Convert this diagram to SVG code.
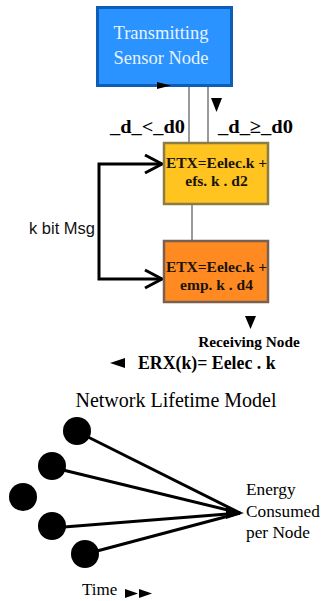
<svg xmlns="http://www.w3.org/2000/svg" width="323" height="601" viewBox="0 0 323 601">
  <style>
    .serif { font-family: "Liberation Serif", "Times New Roman", serif; }
    .sans { font-family: "Liberation Sans", Arial, sans-serif; }
    .bold { font-weight: bold; }
    .link { stroke: #9a9a9a; stroke-width: 2; fill: none; }
    .bracket { stroke: #000; stroke-width: 3; fill: none; }
    .spoke { stroke: #000; stroke-width: 3; }
    .dot { fill: #000; }
  </style>

  <rect width="323" height="601" fill="#fff"/>

  <!-- connectors -->
  <g id="connectors">
    <line class="link" x1="189" y1="87" x2="189" y2="142"/>
    <line class="link" x1="208" y1="87" x2="208" y2="142"/>
    <line class="link" x1="192" y1="205" x2="192" y2="240"/>
    <!-- k bit message bracket -->
    <polyline class="bracket" points="162,164 99,164 99,279 162,279"/>
    <polyline class="bracket" points="145,155 162,164 145,173"/>
    <polyline class="bracket" points="145,270 162,279 145,288"/>
  </g>

  <!-- transmitting node -->
  <g id="transmitter">
    <rect x="97.5" y="7.5" width="134" height="78" fill="#2a93ff" stroke="#0d5eb8" stroke-width="3"/>
    <text class="serif" x="161" y="39" font-size="18.5" fill="#e8f2ff" text-anchor="middle">Transmitting</text>
    <text class="serif" x="161" y="64" font-size="18.5" fill="#e8f2ff" text-anchor="middle">Sensor Node</text>
  </g>

  <!-- direction markers -->
  <polygon points="157,82 171,85.5 157,89" fill="#000"/>
  <polygon points="211,98 222,98 216.5,112" fill="#000"/>

  <!-- distance labels -->
  <text class="serif bold" x="110" y="133" font-size="19.5" textLength="75" lengthAdjust="spacingAndGlyphs">_d_&lt;_d0</text>
  <text class="serif bold" x="218" y="133" font-size="19.5" textLength="75" lengthAdjust="spacingAndGlyphs">_d_≥_d0</text>

  <!-- free-space model node -->
  <g id="free-space">
    <rect x="164" y="143" width="104" height="61" fill="#ffc420" stroke="#8b7b45" stroke-width="2.5"/>
    <text class="serif bold" x="216.5" y="168" font-size="15.5" fill="#1a1408" text-anchor="middle">ETX=Eelec.k +</text>
    <text class="serif bold" x="216.5" y="186" font-size="15.5" fill="#1a1408" text-anchor="middle">efs. k . d2</text>
  </g>

  <!-- multipath model node -->
  <g id="multipath">
    <rect x="164" y="241" width="104" height="61" fill="#ff8a22" stroke="#7a6050" stroke-width="2.5"/>
    <text class="serif bold" x="216.5" y="272" font-size="15.5" fill="#1a1408" text-anchor="middle">ETX=Eelec.k +</text>
    <text class="serif bold" x="216.5" y="290" font-size="15.5" fill="#1a1408" text-anchor="middle">emp. k . d4</text>
  </g>

  <text class="sans" x="29" y="234" font-size="16.5" fill="#111">k bit Msg</text>

  <!-- receiving side -->
  <polygon points="245,316 256,316 250.5,329" fill="#000"/>
  <g id="receiver">
    <text class="serif bold" x="249" y="347" font-size="15.3" text-anchor="middle">Receiving Node</text>
  </g>
  <polygon points="110,363 125,358 125,368" fill="#000"/>
  <text class="serif bold" x="138" y="369" font-size="17.8">ERX(k)= Eelec . k</text>

  <!-- lifetime model -->
  <text class="serif" x="176" y="407" font-size="20" text-anchor="middle">Network Lifetime Model</text>
  <g id="lifetime-spokes">
    <line class="spoke" x1="88" y1="437" x2="240" y2="513"/>
    <line class="spoke" x1="63" y1="470" x2="240" y2="513"/>
    <line class="spoke" x1="64" y1="527" x2="240" y2="513"/>
    <line class="spoke" x1="97" y1="551" x2="240" y2="513"/>
    <polygon points="226,507 244,513 226,519" fill="#000"/>
  </g>
  <g id="nodes">
    <circle class="dot" cx="77" cy="431" r="14"/>
    <circle class="dot" cx="52" cy="466" r="14"/>
    <circle class="dot" cx="23" cy="497" r="14"/>
    <circle class="dot" cx="52" cy="526" r="14"/>
    <circle class="dot" cx="85" cy="554" r="14"/>
  </g>
  <g id="energy">
    <text class="serif" x="246" y="495" font-size="17.3">Energy</text>
    <text class="serif" x="246" y="517" font-size="17.3">Consumed</text>
    <text class="serif" x="246" y="538" font-size="17.3">per Node</text>
  </g>
  <text class="serif" x="82" y="595" font-size="17">Time</text>
  <polygon points="125,589 138,593.5 125,598" fill="#000"/>
  <polygon points="139,589 152,593.5 139,598" fill="#000"/>
</svg>
